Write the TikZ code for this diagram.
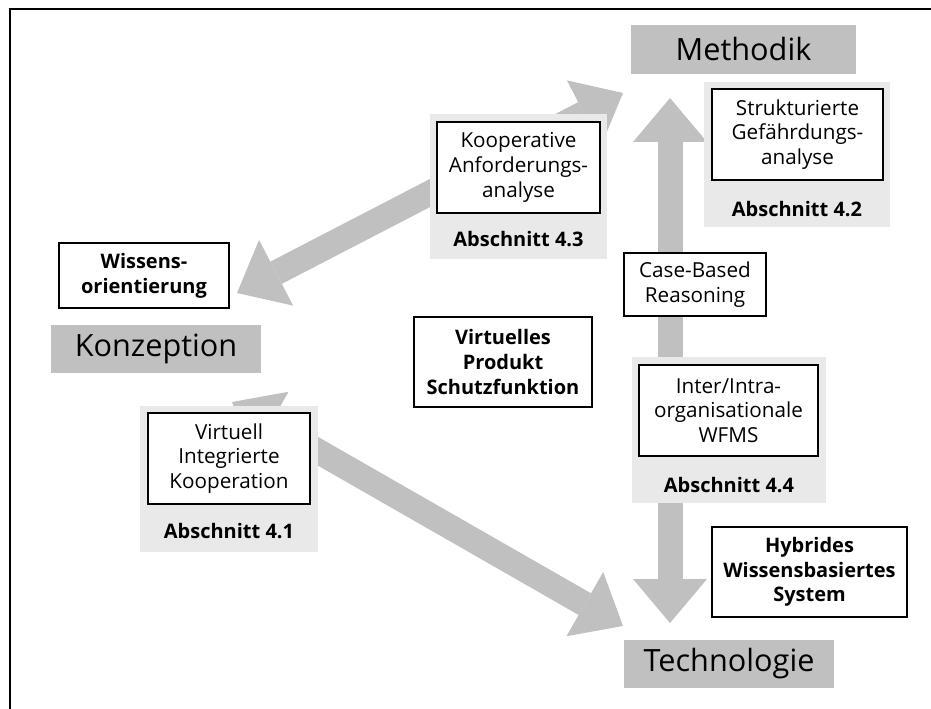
\documentclass[tikz,border=0pt]{standalone}
\usepackage{fontspec}
\setmainfont{Open Sans}
\usetikzlibrary{arrows.meta}
\definecolor{silver}{RGB}{192, 192, 192}
\definecolor{platinum}{RGB}{233, 233, 233}

\tikzset{
  corner/.style={fill=silver, inner sep=0pt, font=\fontsize{23}{27}\selectfont},
  panel/.style={fill=platinum, inner sep=0pt},
  topic/.style={draw=black, line width=1.5pt, fill=white, align=center, inner sep=0pt,
                font=\fontsize{15.5}{18.5}\selectfont},
  bold topic/.style={topic, font=\bfseries\fontsize{15}{18.5}\selectfont},
  secnote/.style={inner sep=0pt, font=\bfseries\fontsize{15}{18}\selectfont},
  flow/.style={silver, line width=18.75pt,
               {Triangle[length=33pt, width=55.5pt, line width=0pt]}-{Triangle[length=33pt, width=55.5pt, line width=0pt]}}
}

\begin{document}
\begin{tikzpicture}[x=0.75pt, y=-0.75pt]
            \useasboundingbox (0,0) rectangle (931,709);
            \draw[line width=1.5pt] (10,709) |- (931,9);

            % the three corners
            \node[corner, minimum width=168.75pt, minimum height=36.75pt] (methodik)    at (743.5, 49.5) {Methodik};
            \node[corner, minimum width=157.5pt,  minimum height=36pt]    (konzeption)  at (156, 349)    {Konzeption};
            \node[corner, minimum width=157.5pt,  minimum height=36pt]    (technologie) at (729, 664)    {Technologie};

            % arrow ends
            \coordinate (kon-up)   at (237, 293);
            \coordinate (met-left) at (623, 93);
            \coordinate (kon-down) at (232, 402);
            \coordinate (tec-left) at (623, 626);
            \coordinate (met-down) at (670, 98);
            \coordinate (tec-up)   at (670, 623);

            \draw[flow] (kon-up) -- (met-left);
            \draw[flow] (kon-down) -- (tec-left);
            \draw[flow] (met-down) -- (tec-up);

            % sections
            \node[panel, minimum width=133.5pt, minimum height=109.5pt]  (p41) at (229, 479)   {};
            \node[panel, minimum width=139.5pt, minimum height=108.75pt] (p42) at (797, 154.5) {};
            \node[panel, minimum width=132.75pt, minimum height=108.75pt] (p43) at (518.5, 186.5) {};
            \node[panel, minimum width=145.5pt, minimum height=109.5pt]  (p44) at (729, 430)   {};

            \node[topic, minimum width=121.5pt,  minimum height=68.25pt] (vik)   at (229, 458.5)   {Virtuell\\Integrierte\\Kooperation};
            \node[topic, minimum width=128.25pt, minimum height=68.25pt] (sga)   at (797.5, 134.5) {Strukturierte\\Gefährdungs-\\analyse};
            \node[topic, minimum width=122.25pt, minimum height=68.25pt] (kaa)   at (518.5, 167.5) {Kooperative\\Anforderungs-\\analyse};
            \node[topic, minimum width=134.25pt, minimum height=68.25pt] (wfms)  at (728.5, 410.5) {Inter/Intra-\\organisationale\\WFMS};

            \node[secnote] (s41) at (229, 531)   {Abschnitt 4.1};
            \node[secnote] (s42) at (797, 209)   {Abschnitt 4.2};
            \node[secnote] (s43) at (518.5, 239) {Abschnitt 4.3};
            \node[secnote] (s44) at (729, 485)   {Abschnitt 4.4};

            % free standing topics
            \node[bold topic, minimum width=127.5pt,  minimum height=48.75pt] (wissen) at (144, 275.5) {Wissens-\\orientierung};
            \node[topic,      minimum width=106.5pt,  minimum height=47.25pt] (cbr)    at (695, 284.5) {Case-Based\\Reasoning};
            \node[bold topic, minimum width=133.5pt,  minimum height=67.5pt]  (vps)    at (503, 362)   {Virtuelles\\Produkt\\Schutzfunktion};
            \node[bold topic, minimum width=146.25pt, minimum height=67.5pt]  (hwbs)   at (809.5, 572) {Hybrides\\Wissensbasiertes\\System};
        \end{tikzpicture}
\end{document}
